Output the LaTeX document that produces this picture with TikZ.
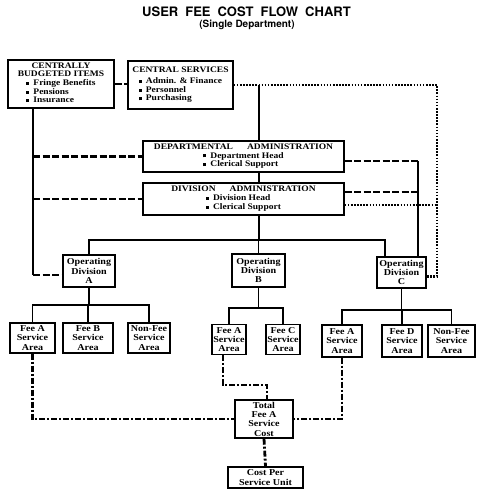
\documentclass[tikz,border=0pt]{standalone}
\usepackage{fontspec}
\newfontfamily\boxfont{Liberation Serif}[FakeStretch=1.12]
\newfontfamily\titlefont{TeX Gyre Heros}
\newcommand{\sqb}{\rule[0.15ex]{3pt}{3pt}\hspace{4pt}}
\newcommand{\blist}[1]{\begin{tabular}[t]{@{}l@{}}#1\end{tabular}}
\begin{document}
\begin{tikzpicture}[x=1pt,y=-1pt,
  box/.style={draw, line width=1.4pt, fill=white, inner sep=0pt, align=center,
    font=\boxfont\bfseries\fontsize{9}{9.3}\selectfont},
  listbox/.style={box, font=\boxfont\bfseries\fontsize{8.5}{8.6}\selectfont},
  conn/.style={line width=1.1pt},
  heavy/.style={line width=2.8pt},
  dashy/.style={line width=2.8pt, dash pattern=on 7pt off 2.5pt},
  dotty/.style={line width=2.6pt, dash pattern=on 1.6pt off 1.5pt},
  dashdotty/.style={line width=2.8pt, dash pattern=on 6pt off 2pt on 2pt off 2pt}
]
\fill[white] (0,0) rectangle (484,494);
\useasboundingbox (0,0) rectangle (484,494);

% title
\node[font=\titlefont\bfseries\fontsize{13}{15}\selectfont, anchor=base, inner sep=0pt] (title) at (246.5,17)
  {USER\hspace{7pt}FEE\hspace{7pt}COST\hspace{7pt}FLOW\hspace{7pt}CHART};
\node[font=\titlefont\bfseries\fontsize{10}{12}\selectfont, anchor=base, inner sep=0pt] (sub) at (247,28)
  {(Single Department)};

% helper coordinates
\coordinate (trunkX) at (33,0);
\coordinate (tapX) at (259,0);
\coordinate (thkX) at (418,0);
\coordinate (dotX) at (437,0);
\coordinate (opCin) at (385,0);
\coordinate (bus) at (0,240);
\coordinate (busA) at (0,305);
\coordinate (busB) at (0,308);
\coordinate (busC) at (0,310);
\coordinate (midY) at (0,385);

% boxes
\node[listbox, minimum width=106pt, minimum height=48pt] (cbi) at (61,84)
  {CENTRALLY\\BUDGETED ITEMS\\\blist{\sqb Fringe Benefits\\\sqb Pensions\\\sqb Insurance}};
\node[listbox, minimum width=105pt, minimum height=48pt] (cs) at (180.5,85)
  {CENTRAL SERVICES\\[3pt]\blist{\sqb Admin. \& Finance\\\sqb Personnel\\\sqb Purchasing}};
\node[listbox, minimum width=201pt, minimum height=31pt] (dept) at (243.5,156.5)
  {DEPARTMENTAL\hspace{14pt}ADMINISTRATION\\\blist{\sqb Department Head\\\sqb Clerical Support}};
\node[listbox, minimum width=201pt, minimum height=32pt] (div) at (243.5,199)
  {DIVISION\hspace{14pt}ADMINISTRATION\\\blist{\sqb Division Head\\\sqb Clerical Support}};

\node[box, minimum width=52pt, minimum height=32pt] (opA) at (89,271) {Operating\\Division\\A};
\node[box, minimum width=53pt, minimum height=33pt] (opB) at (258.5,270.5) {Operating\\Division\\B};
\node[box, minimum width=49pt, minimum height=31pt] (opC) at (401.5,272.5) {Operating\\Division\\C};

\node[box, minimum width=45pt, minimum height=30pt] (feeAA) at (32.5,338) {Fee A\\Service\\Area};
\node[box, minimum width=50pt, minimum height=30pt] (feeB) at (88,338) {Fee B\\Service\\Area};
\node[box, minimum width=42pt, minimum height=30pt] (nonA) at (149,338) {Non-Fee\\Service\\Area};
\node[box, minimum width=34pt, minimum height=30pt] (feeAB) at (229,339.5) {Fee A\\Service\\Area};
\node[box, minimum width=34pt, minimum height=30pt] (feeC) at (283,339.5) {Fee C\\Service\\Area};
\node[box, minimum width=40pt, minimum height=32pt] (feeAC) at (342,341) {Fee A\\Service\\Area};
\node[box, minimum width=40pt, minimum height=32pt] (feeD) at (402,341) {Fee D\\Service\\Area};
\node[box, minimum width=47pt, minimum height=32pt] (nonC) at (451.5,341) {Non-Fee\\Service\\Area};

\node[box, minimum width=58pt, minimum height=38pt] (total) at (264,419) {Total\\Fee A\\Service\\Cost};
\node[box, minimum width=75pt, minimum height=21pt] (cpu) at (265.5,477.5) {Cost Per\\Service Unit};

% top connections
\draw[dashy] (cbi.east) -- (cbi.east -| cs.west);
\draw[dotty] (cs.east) -- (cs.east -| dotX) -- ([yshift=-4pt]opC.east -| dotX) -- ([yshift=-4pt]opC.east);
\draw[line width=1.5pt] (cs.east -| tapX) -- (dept.north -| tapX);
\draw[conn] (dept.south -| tapX) -- (div.north -| tapX);

% left trunk
\draw[heavy] (cbi.south -| trunkX) -- ([yshift=-4pt]opA.west -| trunkX);
\draw[dashy] ([yshift=-4pt]opA.west -| trunkX) -- ([yshift=-4pt]opA.west);
\draw[dashy] (dept.west -| trunkX) -- (dept.west);
\draw[dashy] (div.west -| trunkX) -- (div.west);

% right side
\draw[dashy] ([yshift=-4.5pt]dept.east) -- ([yshift=-4.5pt]dept.east -| thkX);
\draw[heavy] ([yshift=-4.5pt]dept.east -| thkX) -- (opC.north -| thkX);
\draw[dashy] ([yshift=7pt]div.east) -- ([yshift=7pt]div.east -| thkX);
\draw[dotty] ([yshift=-6pt]div.east) -- ([yshift=-6pt]div.east -| dotX);

% tree to operating divisions
\draw[conn] (div.south -| tapX) -- (bus -| tapX);
\draw[conn] (opA.north) -- (opA.north |- bus) -- (bus -| opCin) -- (opC.north -| opCin);
\draw[conn] (opB.north) -- (opB.north |- bus);

% tree A
\draw[conn] (opA.south) -- (opA.south |- busA);
\draw[conn] (feeAA.north) -- (feeAA.north |- busA) -- (nonA.north |- busA) -- (nonA.north);
\draw[conn] (feeB.north) -- (feeB.north |- busA);
% tree B
\draw[conn] (opB.south) -- (opB.south |- busB);
\draw[conn] (feeAB.north) -- (feeAB.north |- busB) -- (feeC.north |- busB) -- (feeC.north);
% tree C
\draw[conn] (opC.south) -- (opC.south |- busC);
\draw[conn] (feeAC.north) -- (feeAC.north |- busC) -- (nonC.north |- busC) -- (nonC.north);
\draw[conn] (feeD.north) -- (feeD.north |- busC);

% fee A totals
\draw[dashdotty] (feeAA.south) |- (total.west);
\draw[dashdotty] ([xshift=-6pt]feeAB.south) |- ([xshift=3pt]total.north |- midY) -- ([xshift=3pt]total.north);
\draw[dashdotty] (feeAC.south) |- (total.east);
\draw[dashdotty] (total.south) -- (cpu.north);
\end{tikzpicture}
\end{document}
